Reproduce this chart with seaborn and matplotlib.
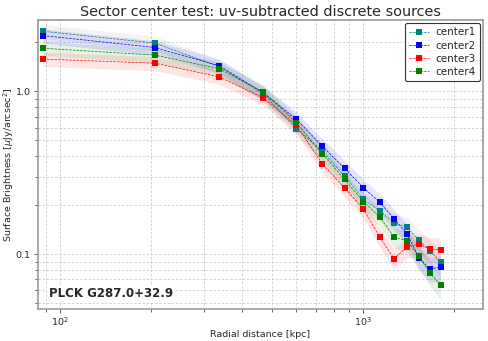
import numpy as np
import pandas as pd
import matplotlib
matplotlib.use("Agg")
import matplotlib.pyplot as plt
import seaborn as sns
from matplotlib.ticker import FixedLocator, FixedFormatter, NullFormatter, LogLocator

# データ
radius = [88.5, 206, 335, 469, 603, 733, 869, 1003, 1136, 1265, 1396, 1527, 1661, 1799]

center1 = [2.34, 1.98, 1.42, 0.97, 0.59, 0.43, 0.302, 0.217, 0.184, 0.156, 0.146, 0.122, 0.105, 0.0895]
center2 = [2.20, 1.86, 1.44, 0.98, 0.673, 0.462, 0.337, 0.256, 0.208, 0.165, 0.133, 0.0953, 0.081, 0.0836]
center3 = [1.58, 1.49, 1.23, 0.914, 0.621, 0.36, 0.255, 0.189, 0.127, 0.094, 0.111, 0.115, 0.108, 0.106]
center4 = [1.84, 1.67, 1.38, 0.99, 0.641, 0.414, 0.288, 0.210, 0.169, 0.127, 0.121, 0.097, 0.0765, 0.0648]

# 相対誤差（帯の半幅）
err1 = [0.10, 0.10, 0.10, 0.10, 0.11, 0.11, 0.12, 0.12, 0.13, 0.14, 0.15, 0.16, 0.17, 0.18]
err2 = [0.10, 0.10, 0.10, 0.10, 0.11, 0.11, 0.12, 0.12, 0.13, 0.14, 0.15, 0.16, 0.17, 0.18]
err3 = [0.10, 0.10, 0.10, 0.10, 0.11, 0.11, 0.12, 0.12, 0.13, 0.14, 0.15, 0.16, 0.17, 0.18]
err4 = [0.10, 0.10, 0.10, 0.10, 0.11, 0.11, 0.12, 0.12, 0.13, 0.14, 0.15, 0.16, 0.17, 0.18]

names = ['center1', 'center2', 'center3', 'center4']
colors = {'center1': 'teal', 'center2': 'blue', 'center3': 'red', 'center4': 'green'}
band_colors = {'center1': 'gray', 'center2': 'blue', 'center3': 'red', 'center4': 'green'}

values = {'center1': center1, 'center2': center2, 'center3': center3, 'center4': center4}
errors = {'center1': err1, 'center2': err2, 'center3': err3, 'center4': err4}

df = pd.concat([pd.DataFrame({'r': radius, 'sb': values[n], 'err': errors[n], 'center': n})
                for n in names], ignore_index=True)

sns.set_style('white')
plt.rcParams['font.family'] = ['DejaVu Sans']

fig = plt.figure(figsize=(4.89, 3.41), dpi=100)
ax = fig.add_axes([0.0767, 0.094, 0.911, 0.847])

# 誤差帯
for n in names:
    d = df[df['center'] == n]
    ax.fill_between(d['r'], d['sb'] * (1 - d['err']), d['sb'] * (1 + d['err']),
                    color=band_colors[n], alpha=0.1, linewidth=0)

sns.lineplot(data=df, x='r', y='sb', hue='center', palette=colors, marker='s',
             markersize=4, markeredgewidth=0, linewidth=0.5, linestyle='--',
             sort=False, estimator=None, ax=ax, legend=False)

ax.set_xscale('log')
ax.set_yscale('log')
ax.set_xlim(84.6, 2483)
ax.set_ylim(0.0461, 2.74)

ax.yaxis.set_major_locator(FixedLocator([0.1, 1.0]))
ax.yaxis.set_major_formatter(FixedFormatter(['0.1', '1.0']))
ax.yaxis.set_minor_locator(LogLocator(base=10, subs=np.arange(2, 10)))
ax.yaxis.set_minor_formatter(NullFormatter())
ax.xaxis.set_minor_formatter(NullFormatter())

ax.grid(True, which='both', linestyle=(0, (3, 2)), color='#cccccc', linewidth=0.6)
ax.tick_params(which='both', direction='out', labelsize=6.8, length=3, width=0.6,
               color='#444444', bottom=True, left=True, pad=2)
ax.tick_params(which='minor', length=2)
for s in ax.spines.values():
    s.set_color('#999999')
    s.set_linewidth(1.2)

# 凡例
handles = [plt.Line2D([], [], color=colors[n], marker='s', markersize=4, markeredgewidth=0,
                      linestyle='--', linewidth=0.5, label=n) for n in names]
leg = ax.legend(handles=handles, loc='upper right', fontsize=7.5, frameon=True,
                framealpha=1, edgecolor='#333333', handlelength=1.9, borderpad=0.4,
                labelspacing=0.3, handletextpad=0.6, borderaxespad=0.3)
leg.get_frame().set_linewidth(0.8)

ax.text(0.025, 0.03, 'PLCK G287.0+32.9', transform=ax.transAxes, fontsize=8.5,
        fontweight='bold', ha='left', va='bottom',
        bbox=dict(facecolor='white', edgecolor='none', pad=1))

ax.set_title('Sector center test: uv-subtracted discrete sources', fontsize=10.4, pad=3)
ax.set_xlabel('Radial distance [kpc]', fontsize=6.8, labelpad=1)
ax.set_ylabel('Surface Brightness [$\\mu$Jy/arcsec$^2$]', fontsize=6.8)
ax.yaxis.set_label_coords(-0.048, 0.5)

fig.savefig('out.png', dpi=100)
